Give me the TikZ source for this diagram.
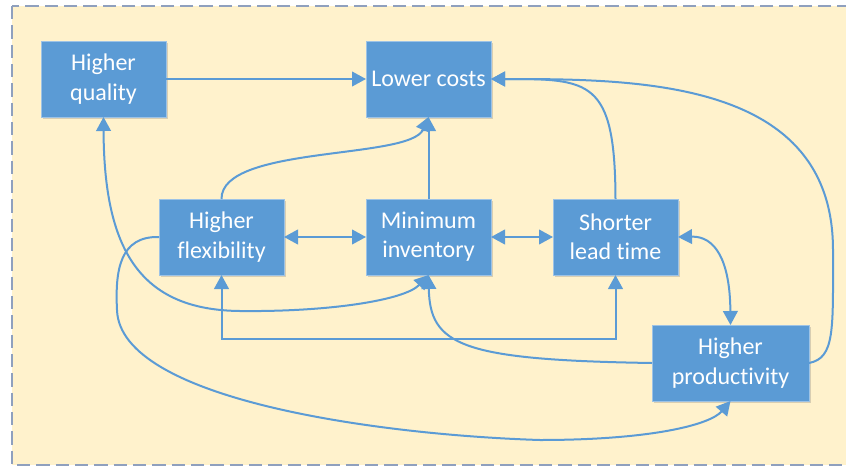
\documentclass[tikz,border=0pt]{standalone}
\usepackage{fontspec}
\setmainfont{Carlito}[Ligatures=NoCommon]
\usetikzlibrary{positioning,arrows.meta,shadows}

\definecolor{boxblue}{RGB}{91,155,213}
\definecolor{boxedge}{RGB}{157,195,230}
\definecolor{paper}{RGB}{255,242,204}
\definecolor{framegray}{RGB}{143,160,190}

\begin{document}
\begin{tikzpicture}[
    x=0.75pt, y=-0.75pt,
    font=\fontsize{18}{22}\selectfont,
    factor/.style={rectangle,fill=boxblue,draw=boxedge,line width=0.6pt,
                   text=white,align=center,outer sep=0pt,
                   minimum width=93.75pt,minimum height=57pt,
                   drop shadow={shadow xshift=1.5pt,shadow yshift=-1.5pt,
                                opacity=0.25,fill=black!60}},
    link/.style={-{Triangle[length=10.5pt,width=11pt]},line width=1.5pt,draw=boxblue},
    both/.style={link,{Triangle[length=10.5pt,width=11pt]}-{Triangle[length=10.5pt,width=11pt]}}
]
  \useasboundingbox (0,0) rectangle (846,468);
  \draw[framegray,fill=paper,line width=1.5pt,dash pattern=on 10pt off 4.5pt]
    (12,6) rectangle (852,465);

  \node[factor] (quality) at (103.5,79) {Higher\\quality};
  \node[factor,right=150pt of quality] (costs) {Lower costs};
  \node[factor,below=61.5pt of costs] (inventory) {Minimum\\inventory};
  \node[factor,left=61.5pt of inventory] (flexibility) {Higher\\flexibility};
  \node[factor,right=46.5pt of inventory] (leadtime) {Shorter\\lead time};
  \node[factor,minimum width=117.75pt,below right=37.5pt and -19.5pt of leadtime]
    (productivity) {Higher\\productivity};

  \draw[link] (quality) -- (costs);
  \draw[link] (inventory) -- (costs);
  \draw[link] (flexibility.north) .. controls (221,145) and (410,160) .. (costs.south);
  \draw[link] (leadtime.north) .. controls (615,79) and (590,79) .. (costs.east);
  \draw[link] (productivity.east) .. controls (835,358) and (833,330) .. (833,250)
    .. controls (833,80) and (640,79) .. (costs.east);

  \draw[both] (flexibility) -- (inventory);
  \draw[both] (inventory) -- (leadtime);
  \draw[both] (leadtime.east) .. controls (715,236) and (730,260) .. (productivity.north);
  \draw[both] (flexibility.south) -- ++(0,64) -| (leadtime.south);
  \draw[both] (quality.south) .. controls (104,250) and (140,310) .. (240,311)
    .. controls (330,312) and (405,300) .. (inventory.south);

  \draw[link] (productivity.west) .. controls (460,360) and (430,345) .. (inventory.south);
  \draw[link] (flexibility.west) .. controls (120,236) and (115,270) .. (117,310)
    .. controls (120,400) and (380,435) .. (540,440)
    .. controls (650,440) and (710,425) .. (productivity.south);
\end{tikzpicture}
\end{document}
